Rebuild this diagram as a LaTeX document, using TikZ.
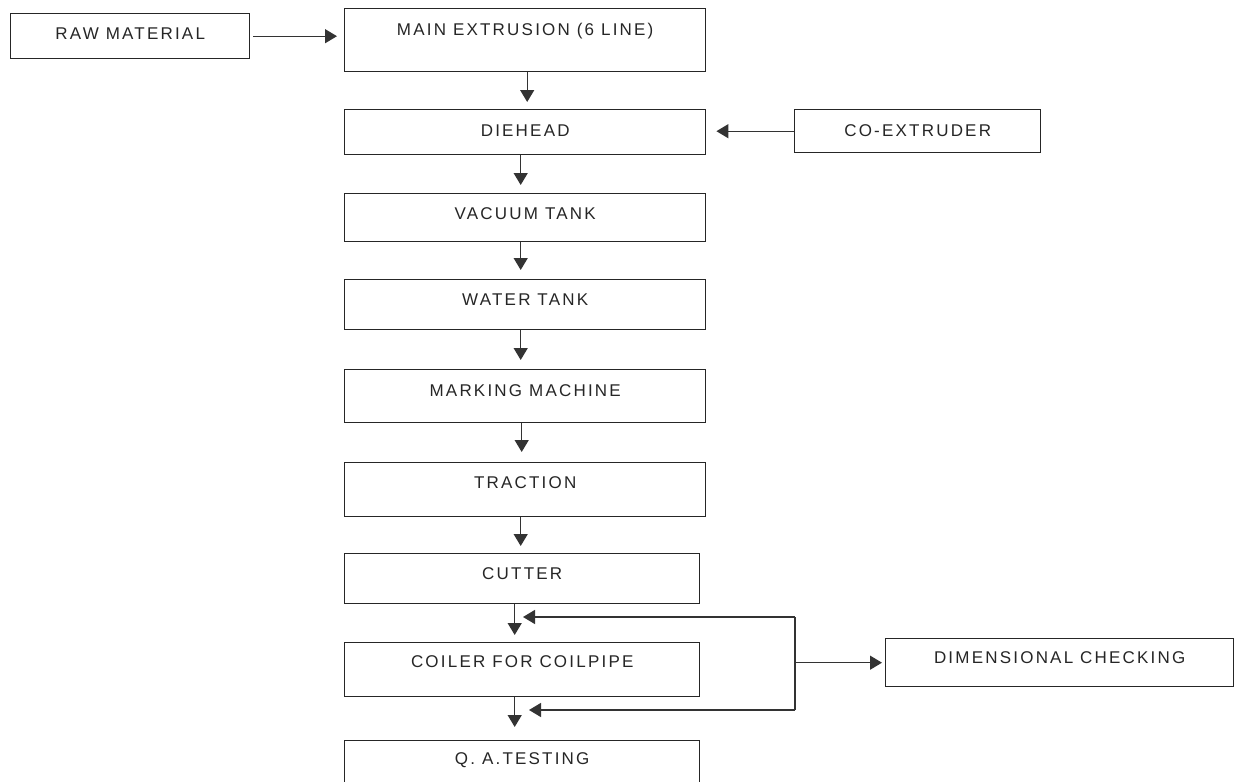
\documentclass[tikz,border=0pt]{standalone}
\usepackage{fontspec}
\setmainfont{Liberation Sans}[LetterSpace=13]
\usetikzlibrary{arrows.meta}
\begin{document}
\begin{tikzpicture}[x=1pt,y=-1pt,
  box/.style={draw=black!85, line width=1.4pt, inner sep=0pt, anchor=north west,
    font=\fontsize{17}{20}\selectfont, text=black!85},
  flow/.style={draw=black!80, line width=1.4pt, -{Triangle[length=12pt,width=14pt]}},
  wire/.style={draw=black!80, line width=1.4pt}]
\useasboundingbox (0,0) rectangle (1235,782);
\fill[white] (0,0) rectangle (1235,782);
\clip (0,0) rectangle (1235,782);

% process steps
\node[box, minimum width=239, text height=26, text depth=19] (raw) at (10,13) {RAW MATERIAL};
\node[box, minimum width=361, text height=27, text depth=36] (main) at (344,8) {MAIN EXTRUSION (6 LINE)};
\node[box, minimum width=361, text height=27, text depth=18] (diehead) at (344,109) {DIEHEAD};
\node[box, minimum width=246, text height=27, text depth=16] (coext) at (794,109) {CO-EXTRUDER};
\node[box, minimum width=361, text height=26, text depth=22] (vacuum) at (344,193) {VACUUM TANK};
\node[box, minimum width=361, text height=26, text depth=24] (water) at (344,279) {WATER TANK};
\node[box, minimum width=361, text height=27, text depth=26] (marking) at (344,369) {MARKING MACHINE};
\node[box, minimum width=361, text height=26, text depth=28] (traction) at (344,462) {TRACTION};
\node[box, minimum width=355, text height=26, text depth=24] (cutter) at (344,553) {CUTTER};
\node[box, minimum width=355, text height=25, text depth=29] (coiler) at (344,642) {COILER FOR COILPIPE};
\node[box, minimum width=348, text height=25, text depth=23] (dim) at (885,638) {DIMENSIONAL CHECKING};
\node[box, minimum width=355, text height=24, text depth=40] (qa) at (344,740) {Q. A.TESTING};

% main flow
\draw[flow, shorten <=3, shorten >=7] (raw.east) -- (raw.east -| main.west);
\draw[flow, shorten >=10] (coext.west) -- (coext.west -| diehead.east);
\draw[flow, shorten >=7] ([xshift=2]main.south) -- ([xshift=2]main.south |- diehead.north);
\draw[flow, shorten >=8] ([xshift=-4.5]diehead.south) -- ([xshift=-4.5]diehead.south |- vacuum.north);
\draw[flow, shorten >=9] ([xshift=-4.5]vacuum.south) -- ([xshift=-4.5]vacuum.south |- water.north);
\draw[flow, shorten >=9] ([xshift=-4.5]water.south) -- ([xshift=-4.5]water.south |- marking.north);
\draw[flow, shorten >=10] ([xshift=-3.5]marking.south) -- ([xshift=-3.5]marking.south |- traction.north);
\draw[flow, shorten >=7] ([xshift=-4.5]traction.south) -- ([xshift=-4.5]traction.south |- cutter.north);
\draw[flow, shorten >=7] ([xshift=-7.5]cutter.south) -- ([xshift=-7.5]cutter.south |- coiler.north);
\draw[flow, shorten >=13] ([xshift=-7.5]coiler.south) -- ([xshift=-7.5]coiler.south |- qa.north);

% dimensional checking loop
\coordinate (fbtop) at (795,617);
\coordinate (fbbot) at (795,710);
\coordinate (fbmid) at (fbtop |- dim.west);
\coordinate (intop) at (523,617);
\coordinate (inbot) at (529,710);
\draw[wire] (fbtop) -- (fbbot);
\draw[flow] (fbtop) -- (intop);
\draw[flow] (fbbot) -- (inbot);
\draw[flow, shorten >=3] (fbmid) -- (dim.west);
\end{tikzpicture}
\end{document}
